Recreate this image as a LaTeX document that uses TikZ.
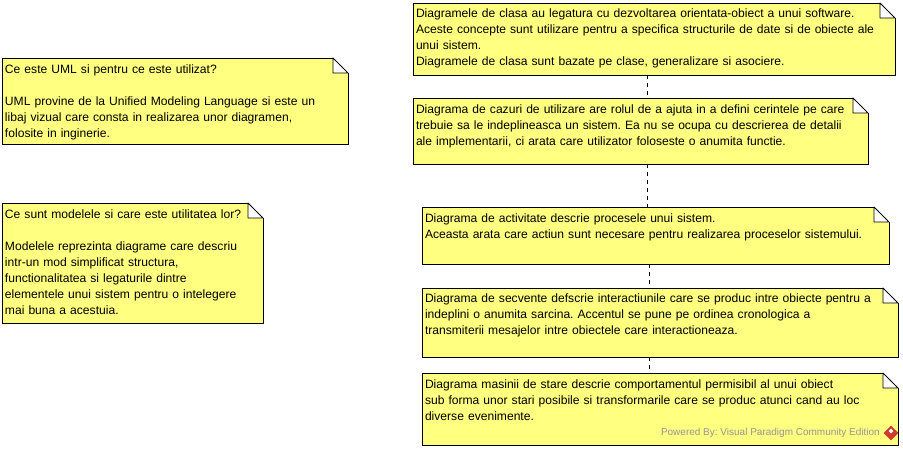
\documentclass[tikz,border=0pt]{standalone}
\usepackage{fontspec}
\setmainfont{Liberation Sans}
\usetikzlibrary{shapes.geometric}
\definecolor{noteyellow}{RGB}{255,255,128}
\definecolor{footgray}{RGB}{150,150,150}
\definecolor{logored}{RGB}{205,60,45}
\tikzset{
  notebox/.style n args={3}{draw=black, line width=0.9pt, fill=noteyellow, rectangle, anchor=north west,
    align=left, inner xsep=3pt, inner ysep=0pt, outer sep=0pt,
    text width=#1pt-6pt, text height=#3pt, text depth=#2pt-#3pt,
    font=\fontsize{12.1}{16}\selectfont},
  noteline/.style={draw=black, line width=0.8pt, dash pattern=on 4pt off 4pt}
}
\frenchspacing
\begin{document}
\begin{tikzpicture}[x=1pt, y=-1pt]

    % Fix the size of the page
    \useasboundingbox (0, 0) rectangle (903, 450);

    % Notes on the left
    \node[notebox={346}{86}{15}] (uml) at (2, 58) {Ce este UML si pentru ce este utilizat?\\[16pt]
      UML provine de la Unified Modeling Language si este un\\
      libaj vizual care consta in realizarea unor diagramen,\\
      folosite in inginerie.};
    \node[notebox={261}{120}{15}] (models) at (2, 203) {Ce sunt modelele si care este utilitatea lor?\\[16pt]
      Modelele reprezinta diagrame care descriu\\
      intr-un mod simplificat structura,\\
      functionalitatea si legaturile dintre\\
      elementele unui sistem pentru o intelegere\\
      mai buna a acestuia.};

    % Notes on the right
    \node[notebox={482}{72}{14}] (class) at (413, 3) {Diagramele de clasa au legatura cu dezvoltarea orientata-obiect a unui software.\\
      Aceste concepte sunt utilizare pentru a specifica structurile de date si de obiecte ale\\
      unui sistem.\\
      Diagramele de clasa sunt bazate pe clase, generalizare si asociere.};
    \node[notebox={455}{66}{15}] (usecase) at (413, 98) {Diagrama de cazuri de utilizare are rolul de a ajuta in a defini cerintele pe care\\
      trebuie sa le indeplineasca un sistem. Ea nu se ocupa cu descrierea de detalii\\
      ale implementarii, ci arata care utilizator foloseste o anumita functie.};
    \node[notebox={467}{57}{15}] (activity) at (422, 207) {Diagrama de activitate descrie procesele unui sistem.\\
      Aceasta arata care actiun sunt necesare pentru realizarea proceselor sistemului.};
    \node[notebox={476}{69}{14}] (sequence) at (422, 288) {Diagrama de secvente defscrie interactiunile care se produc intre obiecte pentru a\\
      indeplini o anumita sarcina. Accentul se pune pe ordinea cronologica a\\
      transmiterii mesajelor intre obiectele care interactioneaza.};
    \node[notebox={476}{72}{15}] (state) at (422, 373) {Diagrama masinii de stare descrie comportamentul permisibil al unui obiect\\
      sub forma unor stari posibile si transformarile care se produc atunci cand au loc\\
      diverse evenimente.};

    % Folded corner of each note
    \foreach \n in {uml, models, class, usecase, activity, sequence, state} {
      \fill[white] (\n.north east) ++(-15, -1) rectangle ++(16, 16);
      \draw[line width=0.9pt, line join=round] (\n.north east) ++(-15, 0) -- ++(0, 15) -- ++(15, 0) -- cycle;
    }

    % Dashed lines between the notes
    \coordinate (upper) at (647, 0);
    \coordinate (lower) at (649, 0);
    \draw[noteline] (upper |- class.south) -- (upper |- usecase.north);
    \draw[noteline] (upper |- usecase.south) -- (upper |- activity.north);
    \draw[noteline] (lower |- activity.south) -- (lower |- sequence.north);
    \draw[noteline] (lower |- sequence.south) -- (lower |- state.north);

    % Footer
    \node[anchor=east, inner sep=0pt, text=footgray, font=\fontsize{10}{12}\selectfont] (footer) at (880, 433) {Powered By: Visual Paradigm Community Edition};
    \node[diamond, fill=logored, minimum width=15pt, minimum height=15pt, inner sep=0pt] (logo) at (891, 433) {};
    \node[diamond, fill=white, minimum width=5pt, minimum height=5pt, inner sep=0pt] (logomark) at (891, 431) {};

\end{tikzpicture}
\end{document}
